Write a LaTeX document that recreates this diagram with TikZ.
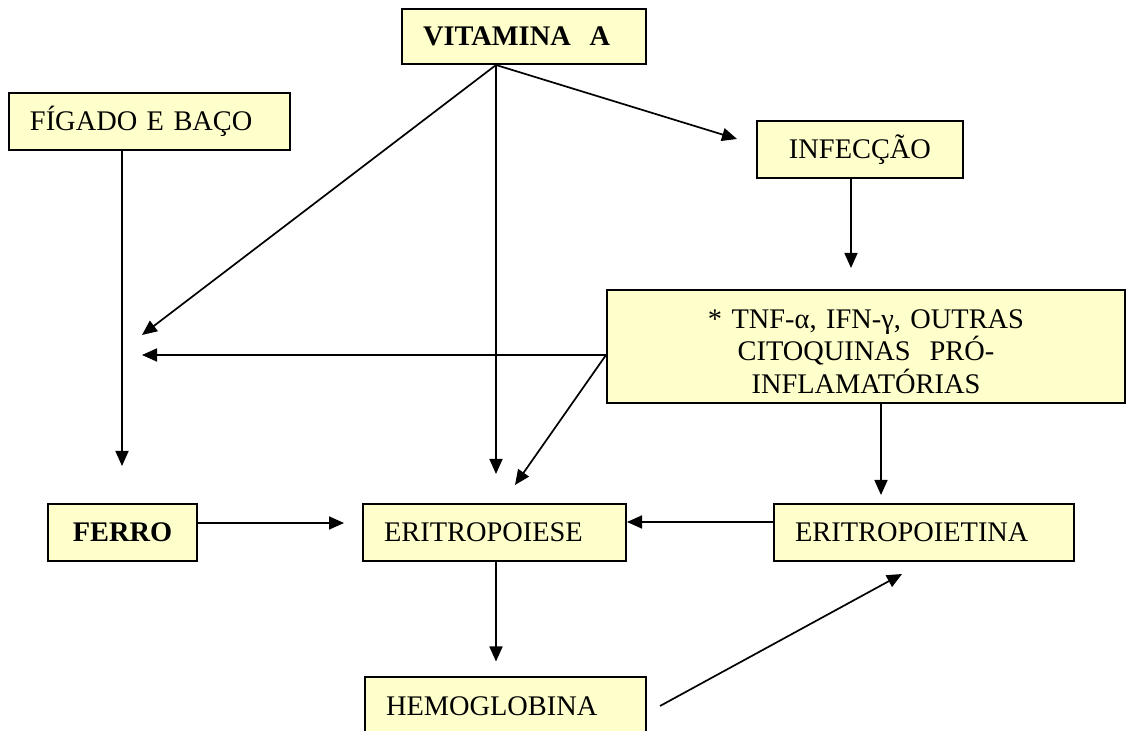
\documentclass[tikz,border=0pt]{standalone}
\usepackage{fontspec}
\setmainfont{Liberation Serif}
\usepackage{tikz}
\usetikzlibrary{arrows.meta, positioning}
\definecolor{boxyellow}{HTML}{FFFFCC}
\tikzset{
	caixa/.style = {draw, fill=boxyellow, line width=1pt, inner xsep=10.5pt, inner ysep=0pt, font=\fontsize{14.2}{16.25}\selectfont},
	umalinha/.style = {text height=9.4pt, text depth=0pt},
	seta/.style = {line width=0.85pt, -{Triangle[length=7.5pt, width=6.5pt]}}
}
\begin{document}
\begin{tikzpicture}[x=0.5pt, y=-0.5pt]
	\useasboundingbox (0,0) rectangle (1126,731);
	\node[caixa, umalinha, text width=101pt, minimum height=27.5pt, align=left] (vitamina) at (524,36.5) {\textbf{VITAMINA\ \ A}};
	\node[caixa, umalinha, text width=119.5pt, minimum height=28.5pt, align=left] (figado) at (149.5,121.5) {FÍGADO E BAÇO};
	\node[caixa, umalinha, text width=82pt, minimum height=28.5pt, align=center] (infeccao) at (860,149.5) {INFECÇÃO};
	\node[caixa, text width=238pt, minimum height=56.5pt, align=center] (citoquinas) at (866,346.5) {\rule{0pt}{14.5pt}* TNF-α, IFN-γ, OUTRAS\\CITOQUINAS\ \ PRÓ-\\INFLAMATÓRIAS};
	\node[caixa, umalinha, text width=53.5pt, minimum height=28.5pt, align=center] (ferro) at (122.5,532.5) {\textbf{FERRO}};
	\node[caixa, umalinha, text width=110.5pt, minimum height=28.5pt, align=left] (eritropoiese) at (494.5,532.5) {ERITROPOIESE};
	\node[caixa, umalinha, text width=129pt, minimum height=28.5pt, align=left] (eritropoietina) at (924,532.5) {ERITROPOIETINA};
	\node[caixa, umalinha, text width=119.5pt, minimum height=28.5pt, align=left] (hemoglobina) at (505.5,706) {HEMOGLOBINA};
	\coordinate (va) at ([xshift=-14pt]vitamina.south);
	\coordinate (cw) at ([yshift=-4.25pt]citoquinas.west);
	\coordinate (fa) at (142,335);
	\coordinate (fb) at (142,355);
	\coordinate (fc) at (122,466);
	\coordinate (ia) at (737,139);
	\coordinate (ib) at (851,268);
	\coordinate (ea) at (515,485);
	\coordinate (eb) at (881,495);
	\coordinate (ec) at (902,574);
	\draw[seta] (va) -- (fa);
	\draw[seta, shorten >=14.5pt] (va) -- (va |- eritropoiese.north);
	\draw[seta] (va) -- (ia);
	\draw[seta] ([xshift=-4.5pt]infeccao.south) -- (ib);
	\draw[seta] ([xshift=-13.75pt]figado.south) -- (fc);
	\draw[seta] (cw) -- (fb);
	\draw[seta] (cw) -- (ea);
	\draw[seta] ([xshift=7.5pt]citoquinas.south) -- (eb);
	\draw[seta] ([yshift=5.25pt]eritropoietina.west) -- ([yshift=5.25pt]eritropoiese.east);
	\draw[seta, shorten >=9pt] ([yshift=4.75pt]ferro.east) -- ([yshift=4.75pt]eritropoiese.west);
	\draw[seta, shorten >=7.5pt] ([xshift=0.75pt]eritropoiese.south) -- ([xshift=0.75pt]eritropoiese.south |- hemoglobina.north);
	\draw[seta] ([xshift=6.5pt]hemoglobina.east) -- (ec);
\end{tikzpicture}
\end{document}
